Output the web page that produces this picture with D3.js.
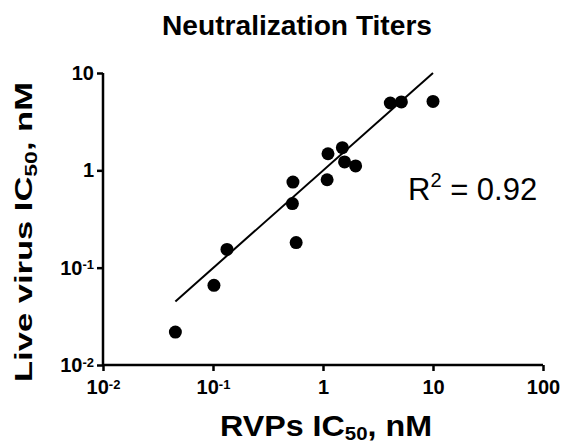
<!DOCTYPE html>
<html>
<head>
<meta charset="utf-8">
<script src="https://cdn.jsdelivr.net/npm/d3@7"></script>
<style>
  body { margin: 0; background: #fff; }
  svg { display: block; font-family: "Liberation Sans", Arial, sans-serif; }
</style>
</head>
<body>
<div id="chart"></div>
<script>
// data
const rvpIC50  = [0.0455, 0.102, 0.134, 0.533, 0.527, 0.57, 1.11, 1.09, 1.50, 1.57, 1.98, 4.09, 5.16, 10.0];
const liveIC50 = [0.0218, 0.0658, 0.154, 0.758, 0.455, 0.181, 1.48, 0.80, 1.71, 1.22, 1.11, 4.92, 5.04, 5.1];
const fitX = [0.0455, 10];
const fitY = [0.045, 10];
const xTicks = [0.01, 0.1, 1, 10, 100];
const xTickLabels = [["10", "-2"], ["10", "-1"], ["1", ""], ["10", ""], ["100", ""]];
const yTicks = [0.01, 0.1, 1, 10];
const yTickLabels = [["10", "-2"], ["10", "-1"], ["1", ""], ["10", ""]];

const W = 571, H = 444;
const margin = {top: 73, right: 28, bottom: 79, left: 103},
      width = W - margin.left - margin.right,
      height = H - margin.top - margin.bottom;

const svg = d3.select("#chart").append("svg")
  .attr("width", W).attr("height", H);

const g = svg.append("g")
  .attr("transform", "translate(" + margin.left + "," + margin.top + ")");

const x = d3.scaleLog().domain([0.01, 100]).range([0, width]);
const y = d3.scaleLog().domain([0.01, 10]).range([height, 0]);

//puts superscripts into the tick labels
function superTicks(sel, labels) {
  sel.selectAll(".tick text").each(function(d, i) {
    const t = d3.select(this).text("");
    t.append("tspan").text(labels[i][0]);
    if (labels[i][1]) {
      t.append("tspan").attr("dy", "-0.4em").attr("font-size", 13).text(labels[i][1]);
    }
  });
}

const xAxis = g.append("g")
  .attr("transform", "translate(0," + height + ")")
  .call(d3.axisBottom(x).tickValues(xTicks).tickSize(6).tickPadding(9));
superTicks(xAxis, xTickLabels);

const yAxis = g.append("g")
  .call(d3.axisLeft(y).tickValues(yTicks).tickSize(6).tickPadding(3));
superTicks(yAxis, yTickLabels);

[xAxis, yAxis].forEach(a => {
  a.select(".domain").attr("stroke", "#000").attr("stroke-width", 2.5);
  a.selectAll(".tick line").attr("stroke", "#000").attr("stroke-width", 2.5);
  a.selectAll(".tick text").attr("fill", "#000").attr("font-size", 20).attr("font-weight", "bold")
    .attr("font-family", "Liberation Sans, Arial, sans-serif");
});
//no end stubs on the domain path
xAxis.select(".domain").attr("d", "M0,0H" + width);
yAxis.select(".domain").attr("d", "M0," + height + "V0");

//regression line
g.append("line")
  .attr("x1", x(fitX[0])).attr("y1", y(fitY[0]))
  .attr("x2", x(fitX[1])).attr("y2", y(fitY[1]))
  .attr("stroke", "#000").attr("stroke-width", 2);

//points
g.selectAll("circle")
  .data(rvpIC50)
  .enter()
  .append("circle")
  .attr("cx", d => x(d))
  .attr("cy", (d, i) => y(liveIC50[i]))
  .attr("r", 6.5)
  .attr("fill", "#000");

//title
svg.append("text")
  .attr("x", 297).attr("y", 35)
  .attr("text-anchor", "middle")
  .attr("font-size", 28).attr("font-weight", "bold")
  .attr("textLength", 270).attr("lengthAdjust", "spacingAndGlyphs")
  .text("Neutralization Titers");

//x label
const xl = svg.append("text")
  .attr("x", 326).attr("y", 436)
  .attr("text-anchor", "middle")
  .attr("font-size", 30).attr("font-weight", "bold")
  .attr("textLength", 212).attr("lengthAdjust", "spacingAndGlyphs");
xl.append("tspan").text("RVPs IC");
xl.append("tspan").attr("font-size", 19).attr("dy", 4).text("50");
xl.append("tspan").attr("dy", -4).text(", nM");

//y label
const yl = svg.append("text")
  .attr("transform", "translate(32,232) rotate(-90)")
  .attr("text-anchor", "middle")
  .attr("font-size", 24).attr("font-weight", "bold")
  .attr("textLength", 300).attr("lengthAdjust", "spacingAndGlyphs");
yl.append("tspan").text("Live virus IC");
yl.append("tspan").attr("font-size", 16).attr("dy", 5).text("50");
yl.append("tspan").attr("dy", -5).text(", nM");

//R squared
const r2 = svg.append("text")
  .attr("x", 408).attr("y", 200)
  .attr("font-size", 31);
r2.append("tspan").text("R");
r2.append("tspan").attr("font-size", 20).attr("dy", -13).text("2");
r2.append("tspan").attr("dy", 13).text(" = 0.92");
</script>
</body>
</html>
